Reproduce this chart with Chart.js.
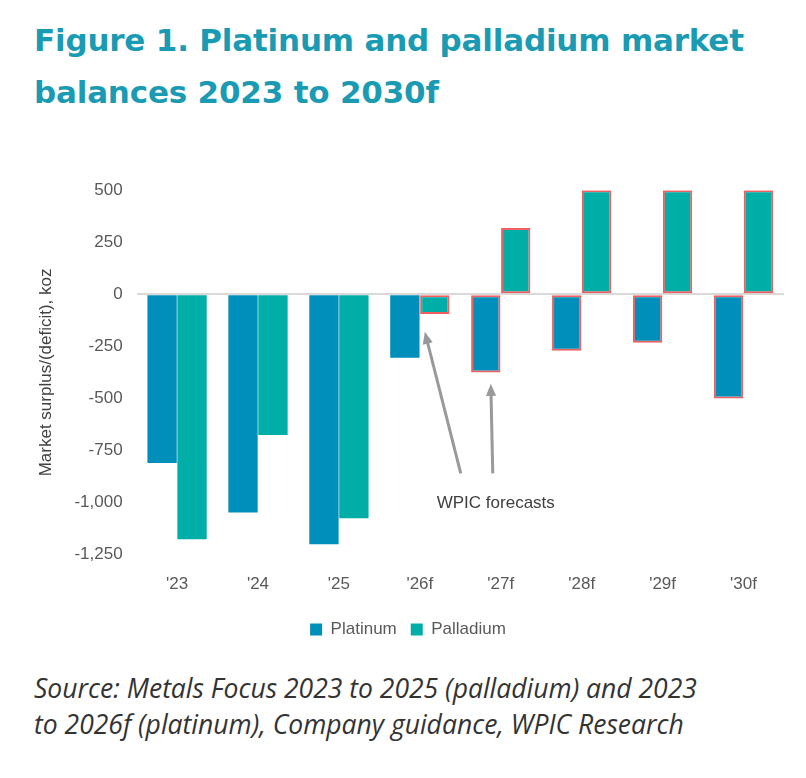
<!DOCTYPE html>
<html>
<head>
<meta charset="utf-8">
<script src="https://cdn.jsdelivr.net/npm/chart.js@4"></script>
<style>
  body { margin: 0; background: #fff; width: 806px; height: 778px; overflow: hidden; font-family: "Open Sans", sans-serif; }
  h1 { position: absolute; left: 34px; top: 14px; margin: 0; width: 780px; font-family: "DejaVu Sans", sans-serif; font-weight: bold; font-size: 31px; line-height: 52px; color: #1a9bb3; letter-spacing: -0.2px; }
  #wrap { position: absolute; left: 22px; top: 166px; width: 768px; height: 482px; }
  .src { position: absolute; left: 34px; top: 670px; width: 760px; font-family: "Open Sans", sans-serif; font-style: italic; font-size: 26.5px; line-height: 36px; color: #333; }
</style>
</head>
<body>
<h1>Figure 1. Platinum and palladium market balances 2023 to 2030f</h1>
<div id="wrap"><canvas id="chart"></canvas></div>
<div class="src">Source: Metals Focus 2023 to 2025 (palladium) and 2023<br>to 2026f (platinum), Company guidance, WPIC Research</div>
<script>
const years = ["'23", "'24", "'25", "'26f", "'27f", "'28f", "'29f", "'30f"];
const platinum = [-810, -1048, -1200, -305, -376, -271, -233, -500];
const palladium = [-1176, -676, -1076, -95, 319, 500, 500, 500];
// forecast bars get a red outline
const platinumForecast = [false, false, false, false, true, true, true, true];
const palladiumForecast = [false, false, false, true, true, true, true, true];

const arrowPlugin = {
    id: 'arrows',
    afterDatasetsDraw(chart) {
        const ctx = chart.ctx;
        const x = chart.scales.x, y = chart.scales.y;
        const bars1 = chart.getDatasetMeta(1).data;
        const bars0 = chart.getDatasetMeta(0).data;
        const tx = x.getPixelForValue(4) - 10, ty = y.getPixelForValue(-860);
        ctx.save();
        ctx.fillStyle = '#404040';
        ctx.font = '17px "Liberation Sans", Arial, sans-serif';
        ctx.textAlign = 'center';
        ctx.fillText('WPIC forecasts', tx + 5, ty + 30);
        const targets = [
            { from: [tx - 30, ty], to: [bars1[3].x - 10, y.getPixelForValue(-180)] },
            { from: [tx + 2, ty], to: [bars0[4].x + 5, y.getPixelForValue(-430)] },
        ];
        ctx.strokeStyle = '#999';
        ctx.fillStyle = '#999';
        ctx.lineWidth = 3;
        targets.forEach((t) => {
            const [x0, y0] = t.from, [x1, y1] = t.to;
            const a = Math.atan2(y1 - y0, x1 - x0);
            ctx.beginPath();
            ctx.moveTo(x0, y0);
            ctx.lineTo(x1 - 10 * Math.cos(a), y1 - 10 * Math.sin(a));
            ctx.stroke();
            ctx.beginPath();
            ctx.moveTo(x1, y1);
            ctx.lineTo(x1 - 13 * Math.cos(a - 0.4), y1 - 13 * Math.sin(a - 0.4));
            ctx.lineTo(x1 - 13 * Math.cos(a + 0.4), y1 - 13 * Math.sin(a + 0.4));
            ctx.closePath();
            ctx.fill();
        });
        ctx.restore();
    },
};

new Chart(document.getElementById('chart'), {
    type: 'bar',
    data: {
        labels: years,
        datasets: [
            {
                label: 'Platinum',
                data: platinum,
                backgroundColor: '#008fbb',
                borderColor: platinumForecast.map((f) => (f ? '#f06060' : 'rgba(0,0,0,0)')),
                borderWidth: platinumForecast.map((f) => (f ? 2 : 0)),
                borderSkipped: false,
                categoryPercentage: 0.74,
                barPercentage: 0.98,
            },
            {
                label: 'Palladium',
                data: palladium,
                backgroundColor: '#00aea8',
                borderColor: palladiumForecast.map((f) => (f ? '#f06060' : 'rgba(0,0,0,0)')),
                borderWidth: palladiumForecast.map((f) => (f ? 2 : 0)),
                borderSkipped: false,
                categoryPercentage: 0.74,
                barPercentage: 0.98,
            },
        ],
    },
    options: {
        responsive: true,
        maintainAspectRatio: false,
        animation: false,
        layout: { padding: { left: 10, right: 6, top: 16 } },
        scales: {
            x: {
                grid: { display: false },
                border: { display: false },
                ticks: { color: '#595959', font: { size: 17, family: '"Liberation Sans", Arial' }, padding: 12 },
            },
            y: {
                min: -1250,
                max: 500,
                ticks: {
                    stepSize: 250,
                    color: '#595959',
                    font: { size: 17, family: '"Liberation Sans", Arial' },
                    padding: 14,
                    callback: (v) => v.toLocaleString('en-US'),
                },
                grid: { drawTicks: false, color: (c) => (c.tick.value === 0 ? '#d9d9d9' : 'rgba(0,0,0,0)'), lineWidth: 2 },
                border: { display: false },
                title: {
                    display: true,
                    text: 'Market surplus/(deficit), koz',
                    color: '#404040',
                    font: { size: 17, family: '"Liberation Sans", Arial' },
                },
            },
        },
        plugins: {
            legend: {
                position: 'bottom',
                labels: { boxWidth: 12, boxHeight: 12, color: '#595959', font: { size: 17, family: '"Liberation Sans", Arial' }, padding: 14 },
            },
            tooltip: { enabled: false },
        },
    },
    plugins: [arrowPlugin],
});
</script>
</body>
</html>
